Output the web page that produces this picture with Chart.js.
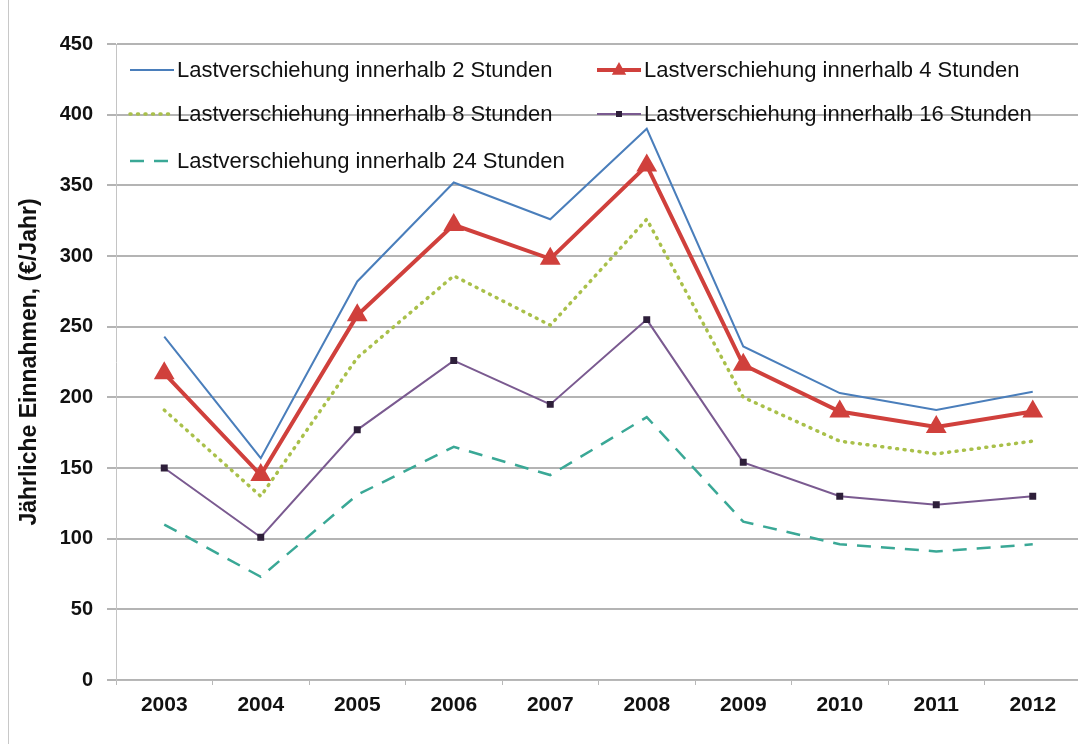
<!DOCTYPE html>
<html>
<head>
<meta charset="utf-8">
<script src="https://cdn.jsdelivr.net/npm/chart.js@4"></script>
<style>
  html, body { margin: 0; padding: 0; background: #fff; }
  #wrap { position: relative; width: 1078px; height: 744px; overflow: hidden; }
  #edge { position: absolute; left: 8px; top: 0; width: 1px; height: 744px; background: #c8c8c8; }
</style>
</head>
<body>
<div id="wrap">
  <canvas id="chart" width="1093" height="744"></canvas>
  <div id="edge"></div>
</div>
<script>
const years = ['2003', '2004', '2005', '2006', '2007', '2008', '2009', '2010', '2011', '2012'];
const labels = [
  'Lastverschiehung innerhalb 2 Stunden',
  'Lastverschiehung innerhalb 4 Stunden',
  'Lastverschiehung innerhalb 8 Stunden',
  'Lastverschiehung innerhalb 16 Stunden',
  'Lastverschiehung innerhalb 24 Stunden'
];
const shift2h  = [243, 157, 282, 352, 326, 390, 236, 203, 191, 204];
const shift4h  = [217, 145, 258, 322, 298, 364, 223, 190, 179, 190];
const shift8h  = [191, 130, 228, 286, 251, 326, 200, 169, 160, 169];
const shift16h = [150, 101, 177, 226, 195, 255, 154, 130, 124, 130];
const shift24h = [110, 73, 131, 165, 145, 186, 112, 96, 91, 96];

const font = 'Liberation Sans, Arial, sans-serif';

// legend drawn inside the plot, two columns like the original
const insideLegend = {
  id: 'insideLegend',
  afterDraw(chart) {
    const ctx = chart.ctx;
    const slots = [
      { x: 130, y: 70 }, { x: 597, y: 70 },
      { x: 130, y: 114 }, { x: 597, y: 114 },
      { x: 130, y: 161 }
    ];
    ctx.save();
    ctx.font = '22px ' + font;
    ctx.textBaseline = 'middle';
    chart.data.datasets.forEach((ds, i) => {
      const s = slots[i];
      ctx.strokeStyle = ds.borderColor;
      ctx.lineWidth = ds.borderWidth;
      ctx.lineCap = ds.borderCapStyle || 'butt';
      ctx.setLineDash(ds.borderDash || []);
      ctx.beginPath();
      ctx.moveTo(s.x, s.y);
      ctx.lineTo(s.x + 44, s.y);
      ctx.stroke();
      ctx.setLineDash([]);
      if (ds.pointStyle === 'triangle') {
        ctx.fillStyle = ds.pointBackgroundColor;
        const cx = s.x + 22, r = 8;
        ctx.beginPath();
        ctx.moveTo(cx, s.y - r);
        ctx.lineTo(cx + r * 0.9, s.y + r * 0.6);
        ctx.lineTo(cx - r * 0.9, s.y + r * 0.6);
        ctx.closePath();
        ctx.fill();
      } else if (ds.pointStyle === 'rect') {
        ctx.fillStyle = ds.pointBackgroundColor;
        ctx.fillRect(s.x + 19, s.y - 3, 6, 6);
      }
      ctx.fillStyle = '#111';
      ctx.fillText(ds.label, s.x + 47, s.y + 1);
    });
    ctx.restore();
  }
};

const ctx = document.getElementById('chart').getContext('2d');
new Chart(ctx, {
  type: 'line',
  data: {
    labels: years,
    datasets: [
      {
        label: labels[0], data: shift2h,
        borderColor: '#4a7ebb', borderWidth: 2,
        pointRadius: 0, pointStyle: false
      },
      {
        label: labels[1], data: shift4h,
        borderColor: '#d0403c', borderWidth: 4,
        pointStyle: 'triangle', pointRadius: 8,
        pointBackgroundColor: '#d0403c', pointBorderColor: '#d0403c'
      },
      {
        label: labels[2], data: shift8h,
        borderColor: '#a9c04a', borderWidth: 3.5,
        borderDash: [1, 6.5], borderCapStyle: 'round',
        pointRadius: 0, pointStyle: false
      },
      {
        label: labels[3], data: shift16h,
        borderColor: '#7a5a90', borderWidth: 2,
        pointStyle: 'rect', pointRadius: 3.5,
        pointBackgroundColor: '#2e1f3a', pointBorderColor: '#2e1f3a'
      },
      {
        label: labels[4], data: shift24h,
        borderColor: '#3aa896', borderWidth: 2.5,
        borderDash: [14, 10],
        pointRadius: 0, pointStyle: false
      }
    ]
  },
  options: {
    responsive: false,
    animation: false,
    layout: { padding: { top: 44, right: 0, bottom: 0, left: 16 } },
    plugins: {
      legend: { display: false },
      tooltip: { enabled: false }
    },
    elements: { line: { tension: 0 } },
    scales: {
      x: {
        offset: true,
        afterFit: (scale) => { scale.height = 64; },
        grid: {
          display: true, offset: true,
          drawOnChartArea: false, drawTicks: true, tickLength: 5,
          color: '#b8b8b8'
        },
        border: { display: true, color: '#b8b8b8', width: 1 },
        ticks: {
          color: '#111', padding: 8,
          font: { family: font, size: 21, weight: 'bold' }
        }
      },
      y: {
        min: 0, max: 450,
        afterFit: (scale) => { scale.width = 100; },
        ticks: {
          stepSize: 50, color: '#111', padding: 14,
          font: { family: font, size: 20, weight: 'bold' }
        },
        grid: { color: '#b4b4b4', lineWidth: 2, drawTicks: true, tickLength: 9 },
        border: { display: true, color: '#c4c4c4', width: 1 },
        title: {
          display: true,
          text: 'Jährliche Einnahmen, (€/Jahr)',
          color: '#111',
          padding: { top: 0, bottom: 0 },
          font: { family: font, size: 23, weight: 'bold' }
        }
      }
    }
  },
  plugins: [insideLegend]
});
</script>
</body>
</html>
